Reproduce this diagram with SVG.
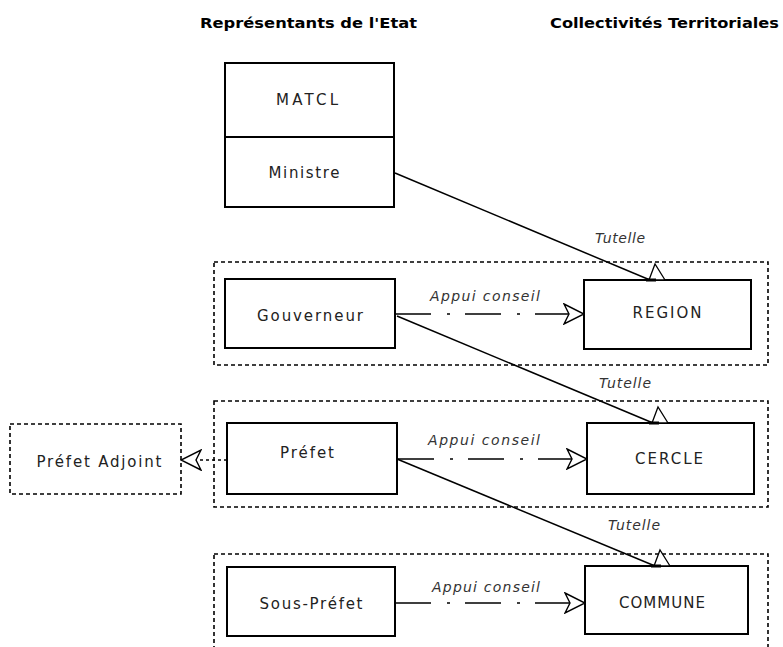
<svg xmlns="http://www.w3.org/2000/svg" width="783" height="647" viewBox="0 0 783 647">
<style>
.hdr{font-family:"DejaVu Sans","Liberation Sans",sans-serif;font-weight:bold;font-size:14px;fill:#000}
.lbl{font-family:"DejaVu Sans","Liberation Sans",sans-serif;font-size:15px;fill:#222;text-anchor:middle;dominant-baseline:central}
.it{font-family:"DejaVu Sans","Liberation Sans",sans-serif;font-size:14px;font-style:italic;fill:#333}
.box{fill:#fff;stroke:#000;stroke-width:2}
.grp{fill:none;stroke:#000;stroke-width:1.6;stroke-dasharray:4 3}
.tut{fill:none;stroke:#000;stroke-width:1.5}
.app{fill:none;stroke:#000;stroke-width:1.5;stroke-dasharray:36 16 3 15}
.dot{fill:none;stroke:#000;stroke-width:1.3;stroke-dasharray:3 3}
</style>
<defs>
<marker id="open" markerUnits="userSpaceOnUse" viewBox="-1 -1 22 22" refX="20" refY="10" markerWidth="22" markerHeight="22" orient="auto">
<path d="M0,0 L20,10 L0,20 L5,10 Z" fill="#fff" stroke="#000" stroke-width="1.4"/>
</marker>
<marker id="tut" markerUnits="userSpaceOnUse" viewBox="-6 -18 24 21" refX="0" refY="0" markerWidth="24" markerHeight="21" orient="0">
<path d="M-1,0 L5,-16 L15,0 Z" fill="#fff" stroke="#000" stroke-width="1.3"/>
<path d="M-4,0 L6,0" stroke="#000" stroke-width="3"/>
</marker>
</defs>
<rect width="783" height="647" fill="#fff"/>
<text class="hdr" x="200" y="28" textLength="217" lengthAdjust="spacingAndGlyphs">Représentants de l'Etat</text>
<text class="hdr" x="550" y="28" textLength="229" lengthAdjust="spacingAndGlyphs">Collectivités Territoriales</text>
<g id="grp-region"><rect class="grp" x="214" y="262" width="554" height="103"/></g>
<g id="grp-cercle"><rect class="grp" x="214" y="401" width="554" height="106"/></g>
<g id="grp-commune"><rect class="grp" x="214" y="554" width="554" height="110"/></g>
<g id="matcl"><rect class="box" x="225" y="63" width="169" height="144"/><line x1="225" y1="137" x2="394" y2="137" stroke="#000" stroke-width="2"/>
<text class="lbl" x="307" y="100" textLength="62">MATCL</text>
<text class="lbl" x="304" y="173" textLength="71">Ministre</text></g>
<g id="gouverneur"><rect class="box" x="225" y="279" width="170" height="69"/><text class="lbl" x="310" y="316" textLength="106">Gouverneur</text></g>
<g id="region"><rect class="box" x="584" y="280" width="167" height="69"/><text class="lbl" x="667" y="313" textLength="69">REGION</text></g>
<g id="prefet"><rect class="box" x="227" y="423" width="170" height="71"/><text class="lbl" x="307" y="453" textLength="54">Préfet</text></g>
<g id="cercle"><rect class="box" x="587" y="423" width="167" height="71"/><text class="lbl" x="669" y="459" textLength="68">CERCLE</text></g>
<g id="prefet-adjoint"><rect class="grp" x="10" y="424" width="171" height="70"/><text class="lbl" x="99" y="462" textLength="125">Préfet Adjoint</text></g>
<g id="sous-prefet"><rect class="box" x="227" y="567" width="168" height="69"/><text class="lbl" x="311" y="604" textLength="103">Sous-Préfet</text></g>
<g id="commune"><rect class="box" x="585" y="566" width="163" height="68"/><text class="lbl" x="662" y="603" textLength="86">COMMUNE</text></g>
<g id="connectors">
<line class="tut" x1="395" y1="173" x2="650" y2="280" marker-end="url(#tut)"/>
<line class="tut" x1="397" y1="316" x2="653" y2="423" marker-end="url(#tut)"/>
<line class="tut" x1="397" y1="459" x2="655" y2="566" marker-end="url(#tut)"/>
<line class="app" x1="395" y1="314" x2="584" y2="314" marker-end="url(#open)"/>
<line class="app" x1="398" y1="459" x2="587" y2="459" marker-end="url(#open)"/>
<line class="app" x1="395" y1="603" x2="585" y2="603" marker-end="url(#open)"/>
<line class="dot" x1="227" y1="460" x2="181" y2="460" marker-end="url(#open)"/>
<text class="it" x="595" y="243" textLength="50">Tutelle</text>
<text class="it" x="599" y="388" textLength="52">Tutelle</text>
<text class="it" x="608" y="530" textLength="52">Tutelle</text>
<text class="it" x="430" y="301" textLength="110">Appui conseil</text>
<text class="it" x="428" y="445" textLength="112">Appui conseil</text>
<text class="it" x="432" y="592" textLength="108">Appui conseil</text>
</g>
</svg>
